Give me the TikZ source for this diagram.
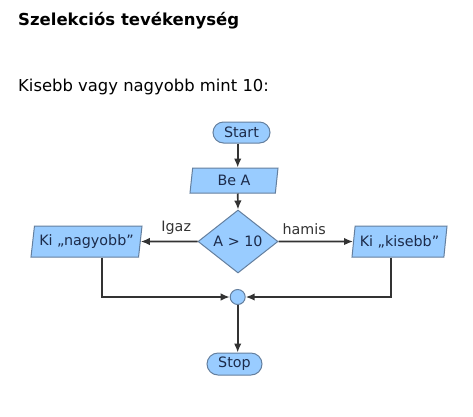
\documentclass[tikz,border=0pt]{standalone}
\usepackage{fontspec}
\setmainfont{DejaVu Sans}
\usetikzlibrary{shapes.geometric,arrows.meta}
\definecolor{boxfill}{HTML}{99CCFF}
\definecolor{boxline}{HTML}{647F9E}
\definecolor{boxtext}{HTML}{1C2B4A}
\definecolor{wire}{HTML}{333333}
\tikzset{
  base/.style={draw=boxline, fill=boxfill, line width=1pt, text=boxtext,
    font=\fontsize{14.3}{16}\selectfont, inner sep=0pt},
  pill/.style={base, rectangle, rounded corners=10.5pt},
  iobox/.style={base, trapezium, trapezium left angle=76, trapezium right angle=104,
    trapezium stretches body},
  decision/.style={base, diamond},
  joint/.style={base, circle, minimum size=15pt},
  flow/.style={draw=wire, line width=1.6pt, -{Latex[length=9pt,width=7.5pt]}},
  lbl/.style={text=wire, font=\fontsize{14.3}{16}\selectfont, anchor=base},
  page/.style={anchor=base west, text=black, inner sep=0pt}
}
\begin{document}
\begin{tikzpicture}[x=1pt,y=-1pt]
\useasboundingbox (0,0) rectangle (473,416);
\node[page, font=\fontsize{16.5}{20}\selectfont\bfseries] (title) at (18,25.7) {Szelekciós tevékenység};
\node[page, font=\fontsize{16.4}{20}\selectfont] (sub) at (18,91.7) {Kisebb vagy nagyobb mint 10:};

\node[pill, minimum width=57pt, minimum height=21pt] (start) at (241.5,132.5) {Start};
\node[iobox, minimum width=88pt, minimum height=25pt] (bea) at (234,180.5) {Be A};
\node[decision, minimum width=80pt, minimum height=63pt] (dia) at (238,241.5) {A > 10};
\node[iobox, minimum width=111pt, minimum height=31pt] (nagy) at (86.5,241.5) {Ki „nagyobb”};
\node[iobox, minimum width=95pt, minimum height=31pt] (kis) at (399.5,241.5) {Ki „kisebb”};
\node[joint] (join) at (237.7,297) {};
\node[pill, minimum width=55pt, minimum height=22pt, rounded corners=11pt] (stop) at (234.5,364) {Stop};

\draw[flow] (start.south -| join) -- (bea.north -| join);
\draw[flow] (bea.south -| join) -- (dia.north);
\draw[flow] (dia.west) -- (nagy.east) node[lbl, pos=0.375, above=3pt] (igaz) {Igaz};
\draw[flow] (dia.east) -- (kis.west) node[lbl, pos=0.345, above=3pt] (hamis) {hamis};
\draw[flow] ([xshift=15.5pt]nagy.south) -- ([xshift=15.5pt]nagy.south |- join) -- (join.west);
\draw[flow] ([xshift=-8.5pt]kis.south) -- ([xshift=-8.5pt]kis.south |- join) -- (join.east);
\draw[flow] (join.south) -- (stop.north -| join);
\end{tikzpicture}
\end{document}
